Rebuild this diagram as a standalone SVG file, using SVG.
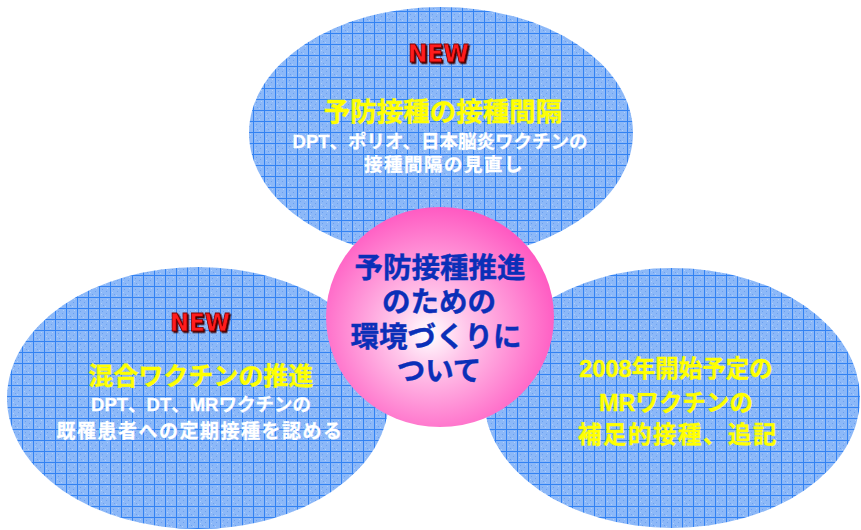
<svg xmlns="http://www.w3.org/2000/svg" width="861" height="530" viewBox="0 0 861 530">
<defs>
<pattern id="grid" patternUnits="userSpaceOnUse" width="11" height="11">
<rect width="11" height="11" fill="#8CB8F8"/>
<rect x="3" y="3" width="1" height="1" fill="#6A9FF0"/>
<rect x="7" y="5" width="1" height="1" fill="#6A9FF0"/>
<rect x="4" y="8" width="1" height="1" fill="#6A9FF0"/>
<rect x="8" y="2" width="1" height="1" fill="#B0D0FB"/>
<rect x="2" y="6" width="1" height="1" fill="#B0D0FB"/>
<rect x="6" y="9" width="1" height="1" fill="#B0D0FB"/>
<rect x="0" y="0" width="11" height="1" fill="#3282F3"/>
<rect x="0" y="0" width="1" height="11" fill="#3282F3"/>
</pattern>
<radialGradient id="pink" cx="0.47" cy="0.55" r="0.55" fx="0.45" fy="0.58">
<stop offset="0" stop-color="#FFFFFF"/>
<stop offset="0.3" stop-color="#FFC6EA"/>
<stop offset="1" stop-color="#FF5AC2"/>
</radialGradient>
<filter id="sh" x="-20%" y="-20%" width="140%" height="160%">
<feDropShadow dx="1.5" dy="1.5" stdDeviation="0.3" flood-color="#3A0000" flood-opacity="1"/>
</filter>
</defs>
<style>
.oval{fill:url(#grid);}
.t{font-family:"Liberation Sans","Noto Sans CJK JP",sans-serif;font-weight:bold;text-anchor:middle;}
.y{fill:#FFFF00;stroke:#FFFF00;stroke-width:0.4;}
.w{fill:#FFFFFF;stroke:#FFFFFF;stroke-width:0.3;}
.b{fill:#0B2FB8;stroke:#0B2FB8;stroke-width:0.4;}
.new{font-family:"DejaVu Sans",sans-serif;font-weight:bold;font-size:25px;fill:#FF1A1A;stroke:#7A0000;stroke-width:0.8;filter:url(#sh);}
</style>
<rect width="861" height="530" fill="#FFFFFF"/>
<g id="node-top">
<ellipse class="oval" cx="441" cy="133" rx="192" ry="126"/>
<text class="new" x="408" y="62" textLength="61" lengthAdjust="spacingAndGlyphs">NEW</text>
<text class="t y" x="443" y="121" font-size="26.5" letter-spacing="0">予防接種の接種間隔</text>
<text class="t w" x="440" y="148" font-size="18.5" letter-spacing="0">DPT、ポリオ、日本脳炎ワクチンの</text>
<text class="t w" x="444" y="171" font-size="18.5" letter-spacing="1.5">接種間隔の見直し</text>
</g>
<g id="node-left">
<ellipse class="oval" cx="198" cy="398" rx="191" ry="131"/>
<text class="new" x="170" y="331" textLength="60" lengthAdjust="spacingAndGlyphs">NEW</text>
<text class="t y" x="201" y="385" font-size="25" letter-spacing="0">混合ワクチンの推進</text>
<text class="t w" x="201" y="411" font-size="18.5" letter-spacing="0">DPT、DT、MRワクチンの</text>
<text class="t w" x="200" y="438" font-size="19" letter-spacing="1.5">既罹患者への定期接種を認める</text>
</g>
<g id="node-right">
<ellipse class="oval" cx="672" cy="398" rx="188" ry="130"/>
<text class="t y" x="676" y="377" font-size="23.5" letter-spacing="0">2008年開始予定の</text>
<text class="t y" x="676" y="411" font-size="23.5" letter-spacing="0">MRワクチンの</text>
<text class="t y" x="678" y="443" font-size="23.5" letter-spacing="1.5">補足的接種、追記</text>
</g>
<g id="node-center">
<ellipse cx="440" cy="317" rx="114" ry="110" fill="url(#pink)"/>
<text class="t b" x="440" y="278" font-size="28.5" letter-spacing="0">予防接種推進</text>
<text class="t b" x="439" y="312" font-size="28.5" letter-spacing="0">のための</text>
<text class="t b" x="436" y="347" font-size="28.5" letter-spacing="0">環境づくりに</text>
<text class="t b" x="439" y="381" font-size="28.5" letter-spacing="0">ついて</text>
</g>
<g id="connectors"/>
</svg>
